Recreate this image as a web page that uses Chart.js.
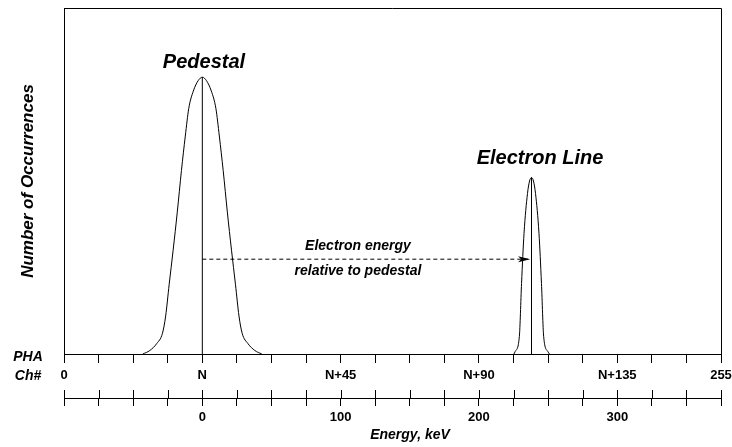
<!DOCTYPE html>
<html>
<head>
<meta charset="utf-8">
<title>PHA spectrum</title>
<script src="https://cdn.jsdelivr.net/npm/chart.js@4.4.1/dist/chart.umd.min.js"></script>
<style>
	body { margin : 0; background : #fff; }
	#canvas { display : block; }
</style>
</head>
<body>
<canvas id="canvas" width="732" height="447"></canvas>
<script>
// energy axis (keV) and relative number of occurrences
var pedestalEnergy = [ -43, -38, -33, -28.8, -26.5, -24, -21.1, -18.1, -15.1, -12.3, -9.8, -6.5, -3, 0,
		3, 6.5, 9.8, 12.3, 15.1, 18.1, 21.1, 24, 26.5, 28.8, 33, 38, 43 ];
var pedestalCounts = [ 0, 1, 3, 6, 11, 20, 30, 41, 53, 63, 71, 76, 79, 80,
		79, 76, 71, 63, 53, 41, 30, 20, 11, 6, 3, 1, 0 ];

var electronEnergy = [ 225.3, 226.2, 229.2, 230.8, 232.6, 235.1, 236.6, 238,
		239.4, 240.9, 243.4, 245.2, 246.8, 249.8, 251 ];
var electronCounts = [ 0, 0.7, 5, 20.4, 34.9, 46.4, 50, 51,
		50, 46.4, 34.9, 20.4, 5, 0.7, 0 ];

// centre markers and the "relative energy" arrow
var pedestalCentre = 0;
var electronCentre = 238;
var arrowLevel = 27.4;
var arrowEnd = 237;

// tick labels
var pha_values = [ -100, 0, 100, 200, 300, 375 ];
var pha_labels = [ '0', 'N', 'N+45', 'N+90', 'N+135', '255' ];
var energy_values = [ 0, 100, 200, 300 ];
var energy_labels = [ '0', '100', '200', '300' ];

function toPoints(xs, ys) {
	var out = [];
	for (var i = 0; i < xs.length; i++) {
		out.push({ x : xs[i], y : ys[i] });
	}
	return out;
}

var FONT = 'Arial, "Liberation Sans", Helvetica, sans-serif';
Chart.defaults.font.family = FONT;
Chart.defaults.color = '#000';

var extras = {
	id : 'extras',
	afterDraw : function(chart) {
		var ctx = chart.ctx;
		var a = chart.chartArea;
		var x2 = chart.scales.x2;
		ctx.save();
		ctx.strokeStyle = '#000';
		ctx.lineWidth = 1;

		// top and right frame
		ctx.beginPath();
		ctx.moveTo(a.left, Math.round(a.top) + 0.5);
		ctx.lineTo(Math.round(a.right) + 0.5, Math.round(a.top) + 0.5);
		ctx.lineTo(Math.round(a.right) + 0.5, a.bottom);
		ctx.stroke();

		// energy ticks cross the axis line
		ctx.beginPath();
		x2.ticks.forEach(function(t) {
			var px = Math.round(x2.getPixelForValue(t.value)) + 0.5;
			ctx.moveTo(px, x2.top - 8);
			ctx.lineTo(px, x2.top);
		});
		ctx.stroke();

		// arrow head
		var p = chart.getDatasetMeta(4).data[1];
		ctx.fillStyle = '#000';
		ctx.beginPath();
		ctx.moveTo(p.x, p.y);
		ctx.lineTo(p.x - 12, p.y - 3);
		ctx.lineTo(p.x - 9, p.y);
		ctx.lineTo(p.x - 12, p.y + 3);
		ctx.closePath();
		ctx.fill();

		ctx.textAlign = 'center';
		ctx.textBaseline = 'middle';
		ctx.font = 'italic bold 20px ' + FONT;
		ctx.fillText('Pedestal', 204, 62);
		ctx.fillText('Electron Line', 540, 158);

		ctx.font = 'italic bold 14px ' + FONT;
		ctx.fillText('Electron energy', 358, 246);
		ctx.fillText('relative to pedestal', 358, 271);
		ctx.fillText('PHA', 28, 357);
		ctx.fillText('Ch#', 28, 376);
		ctx.fillText('Energy, keV', 410, 435);
		ctx.restore();
	}
};

var lineStyle = {
	borderColor : '#000',
	borderWidth : 1,
	pointRadius : 0,
	fill : false
};

// labels at the ends may hang over the edge, as in the original
function noSidePadding(s) {
	s.paddingLeft = 0;
	s.paddingRight = 0;
}

var config = {
	type : 'line',
	data : {
		datasets : [
			Object.assign({ label : 'Pedestal', data : toPoints(pedestalEnergy, pedestalCounts), cubicInterpolationMode : 'monotone' }, lineStyle),
			Object.assign({ label : 'Electron Line', data : toPoints(electronEnergy, electronCounts), cubicInterpolationMode : 'monotone' }, lineStyle),
			Object.assign({ label : 'pedestal centre', data : [ { x : pedestalCentre, y : 0 }, { x : pedestalCentre, y : 80 } ] }, lineStyle),
			Object.assign({ label : 'electron centre', data : [ { x : electronCentre, y : 0 }, { x : electronCentre, y : 51 } ] }, lineStyle),
			Object.assign({ label : 'relative energy', data : [ { x : pedestalCentre, y : arrowLevel }, { x : arrowEnd, y : arrowLevel } ], borderDash : [ 4, 3 ] }, lineStyle)
		]
	},
	options : {
		responsive : false,
		animation : false,
		layout : { padding : { left : 0, right : 11, top : 8, bottom : 0 } },
		plugins : { legend : { display : false }, tooltip : { enabled : false } },
		scales : {
			x : {
				type : 'linear', position : 'bottom', weight : 1,
				min : -100, max : 375,
				grid : { display : true, drawOnChartArea : false, tickLength : 9, color : '#000', lineWidth : 1 },
				border : { display : true, color : '#000', width : 1 },
				ticks : {
					stepSize : 25, autoSkip : false, maxRotation : 0, padding : 5,
					font : { size : 13, weight : 'bold' },
					callback : function(v) {
						var i = pha_values.indexOf(v);
						return i < 0 ? '' : pha_labels[i];
					}
				},
				afterFit : function(s) { s.height = 44; noSidePadding(s); }
			},
			x2 : {
				type : 'linear', position : 'bottom', weight : 2,
				min : -100, max : 375,
				grid : { display : true, drawOnChartArea : false, tickLength : 8, color : '#000', lineWidth : 1 },
				border : { display : true, color : '#000', width : 1 },
				ticks : {
					stepSize : 25, autoSkip : false, maxRotation : 0, padding : 4,
					font : { size : 13, weight : 'bold' },
					callback : function(v) {
						var i = energy_values.indexOf(v);
						return i < 0 ? '' : energy_labels[i];
					}
				},
				afterFit : function(s) { s.height = 49; noSidePadding(s); }
			},
			y : {
				min : 0, max : 100,
				grid : { display : false },
				border : { display : true, color : '#000', width : 1 },
				ticks : { display : false },
				title : {
					display : true, text : 'Number of Occurrences',
					font : { size : 17, weight : 'bold', style : 'italic' },
					padding : { top : 18, bottom : 0 }
				},
				afterFit : function(s) { s.width = 64; }
			}
		}
	},
	plugins : [ extras ]
};

window.onload = function() {
	var ctx = document.getElementById('canvas').getContext('2d');
	window.myChart = new Chart(ctx, config);
};
</script>
</body>
</html>
